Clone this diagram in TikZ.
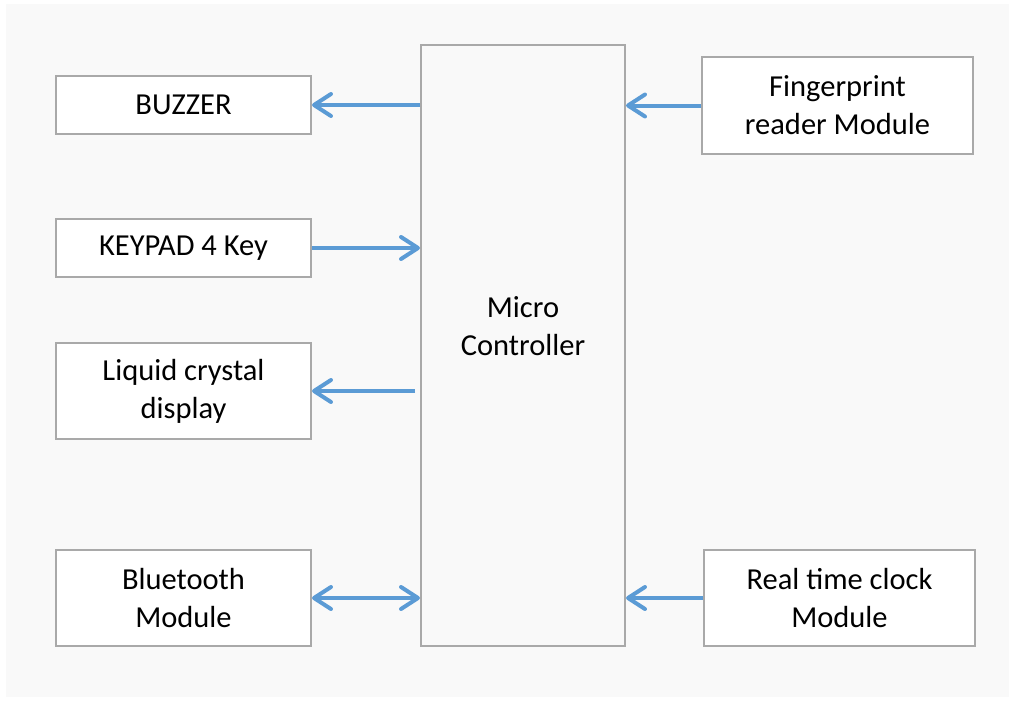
\documentclass[tikz,border=0pt]{standalone}
\usepackage{fontspec}
\setmainfont{Carlito}
\usetikzlibrary{arrows.meta}
\definecolor{bggray}{HTML}{F9F9F9}
\definecolor{boxline}{HTML}{A9A9A9}
\definecolor{arrblue}{HTML}{5B9BD5}
\begin{document}
\begin{tikzpicture}[x=1pt,y=-1pt,
  blk/.style={draw=boxline, line width=2pt, fill=white, align=center, inner sep=0pt,
    font=\fontsize{30.5pt}{38pt}\selectfont},
  arr/.style={draw=arrblue, line width=4pt,
    -{Straight Barb[length=17pt,width=22pt,round]}},
  darr/.style={draw=arrblue, line width=4pt,
    {Straight Barb[length=17pt,width=22pt,round]}-{Straight Barb[length=17pt,width=22pt,round]}}]
\useasboundingbox (0,0) rectangle (1014,701);
\fill[white] (0,0) rectangle (1014,701);
\fill[bggray] (6,4) rectangle (1009,697);
% blocks
\node[blk, fill=bggray, minimum width=204pt, minimum height=601pt] (mc) at (523,345.5) {Micro\\Controller\\\mbox{}};
\node[blk, minimum width=255pt, minimum height=58pt] (buzzer) at (183.5,105) {BUZZER};
\node[blk, minimum width=255pt, minimum height=58pt] (keypad) at (183.5,248) {KEYPAD 4 Key};
\node[blk, minimum width=255pt, minimum height=96pt] (lcd) at (183.5,391) {Liquid crystal\\display};
\node[blk, minimum width=255pt, minimum height=96pt] (bt) at (183.5,598) {Bluetooth\\Module};
\node[blk, minimum width=271pt, minimum height=97pt] (fp) at (837.5,105.5) {Fingerprint\\reader Module};
\node[blk, minimum width=271pt, minimum height=96pt] (rtc) at (839.5,598) {Real time clock\\Module};
% connectors
\coordinate (mcLcd) at ([xshift=-5pt]mc.west |- lcd.east);
\draw[arr] (mc.west |- buzzer.east) -- (buzzer.east);
\draw[arr] (keypad.east) -- (mc.west |- keypad.east);
\draw[arr] (mcLcd) -- (lcd.east);
\draw[darr] (bt.east) -- (mc.west |- bt.east);
\draw[arr] (fp.west) -- (mc.east |- fp.west);
\draw[arr] (rtc.west) -- (mc.east |- rtc.west);
\end{tikzpicture}
\end{document}
